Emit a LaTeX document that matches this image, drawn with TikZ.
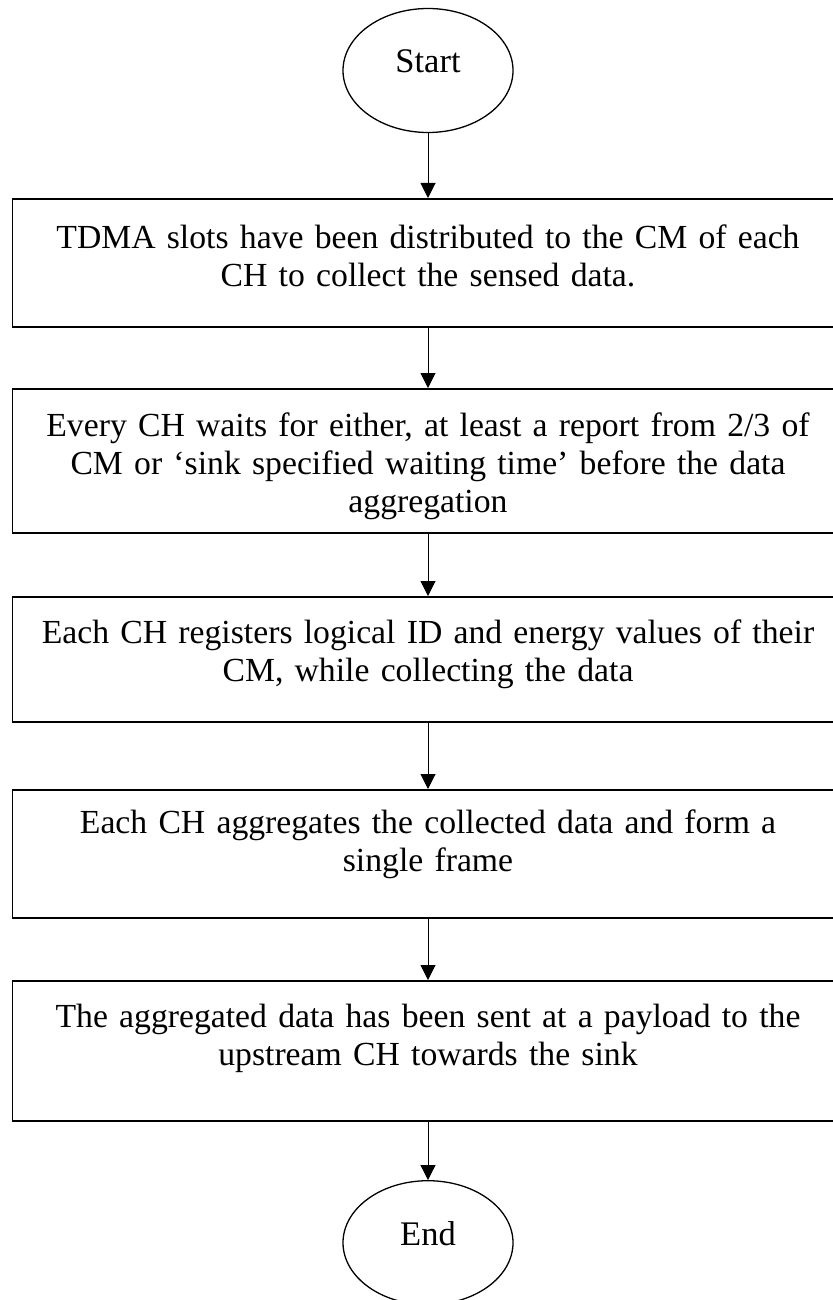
\documentclass[tikz,border=0pt]{standalone}
\usepackage{fontspec}
\setmainfont{Liberation Serif}
\usetikzlibrary{arrows.meta,shapes.geometric}
\begin{document}
\begin{tikzpicture}[x=1pt,y=1pt,
  stepbox/.style={draw, line width=1.5pt, rectangle, minimum width=831pt, inner sep=0pt, anchor=north},
  steptext/.style={anchor=base, align=center, text width=820pt, inner sep=0pt, font=\fontsize{33.7}{38}\selectfont},
  term/.style={draw, ellipse, line width=1.3pt, minimum width=170pt, minimum height=124pt, inner sep=0pt},
  termtext/.style={font=\fontsize{34.5}{40}\selectfont, inner sep=0pt, anchor=base},
  arr/.style={line width=1pt, -{Triangle[width=15pt,length=15pt]}}]
\useasboundingbox (0,0) rectangle (832,-1300);
% terminals
\node[term] (start) at (428,-70.5) {};
\node[termtext] (starttxt) at (428,-72.7) {Start};
\node[term] (end) at (428,-1242.7) {};
\node[termtext] (endtxt) at (428,-1245) {End};
% process boxes
\node[stepbox, minimum height=128pt] (b1) at (428,-198) {};
\node[steptext] (t1) at (428,-248) {TDMA slots have been distributed to the CM of each\\CH to collect the sensed data.};
\node[stepbox, minimum height=144pt] (b2) at (428,-388) {};
\node[steptext] (t2) at (428,-436) {Every CH waits for either, at least a report from 2/3 of\\CM or ‘sink specified waiting time’ before the data\\aggregation};
\node[stepbox, minimum height=125pt] (b3) at (428,-596) {};
\node[steptext] (t3) at (428,-643) {Each CH registers logical ID and energy values of their\\CM, while collecting the data};
\node[stepbox, minimum height=128pt] (b4) at (428,-789) {};
\node[steptext] (t4) at (428,-833) {Each CH aggregates the collected data and form a\\single frame};
\node[stepbox, minimum height=140pt] (b5) at (428,-980) {};
\node[steptext] (t5) at (428,-1027) {The aggregated data has been sent at a payload to the\\upstream CH towards the sink};
% connectors
\draw[arr] (start.south) -- (b1.north);
\draw[arr] (b1.south) -- (b2.north);
\draw[arr] (b2.south) -- (b3.north);
\draw[arr] (b3.south) -- (b4.north);
\draw[arr] (b4.south) -- (b5.north);
\draw[arr] (b5.south) -- (end.north);
\end{tikzpicture}
\end{document}
